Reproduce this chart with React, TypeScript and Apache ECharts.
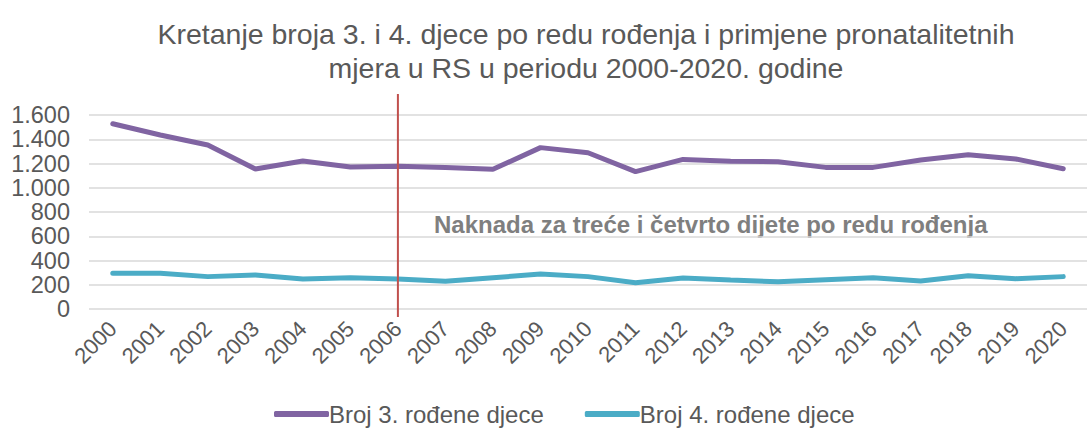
import React, { useEffect, useRef } from "react";
import * as echarts from "echarts";

const years = ["2000","2001","2002","2003","2004","2005","2006","2007","2008","2009","2010","2011","2012","2013","2014","2015","2016","2017","2018","2019","2020"];
const third = [1528,1435,1353,1155,1221,1171,1177,1168,1152,1331,1289,1133,1234,1218,1215,1168,1168,1229,1273,1237,1157];
const fourth = [294,294,267,280,247,258,247,228,258,288,267,217,256,239,225,242,258,231,275,250,267];
const measureStart = [5.89];
const measureLabel = "Naknada za treće i četvrto dijete po redu rođenja";
const titleText = "Kretanje broja 3. i 4. djece po redu rođenja i primjene pronatalitetnih\nmjera u RS u periodu 2000-2020. godine";

const FONT = "'Liberation Sans', Arial, sans-serif";

export default function App() {
  const ref = useRef<HTMLDivElement>(null);
  useEffect(() => {
    const chart = echarts.init(ref.current!, null, { renderer: "svg" });
    chart.setOption({
      animation: false,
      title: {
        text: titleText,
        left: 581,
        top: 12,
        textAlign: "center",
        textStyle: { fontFamily: FONT, fontSize: 28.5, fontWeight: "normal", color: "#595959", lineHeight: 34 },
      },
      legend: {
        bottom: 0,
        left: 269,
        itemWidth: 55,
        itemHeight: 6,
        itemGap: 41,
        icon: "roundRect",
        textStyle: { fontFamily: FONT, fontSize: 24, color: "#595959", padding: [0, 0, 0, -5] },
        data: ["Broj 3. rođene djece", "Broj 4. rođene djece"],
      },
      grid: { left: 89, right: -11, top: 115, bottom: 122 },
      xAxis: {
        type: "category",
        data: years,
        axisLine: { show: false },
        axisTick: { show: false },
        axisLabel: { rotate: 45, fontFamily: FONT, fontSize: 22, color: "#595959", margin: 16 },
      },
      yAxis: {
        type: "value",
        min: 0,
        max: 1600,
        interval: 200,
        axisLabel: {
          fontFamily: FONT,
          fontSize: 23.5,
          lineHeight: 21,
          color: "#595959",
          margin: 19,
          formatter: (v: number) => v.toLocaleString("de-DE"),
        },
        splitLine: { lineStyle: { color: "#d9d9d9", width: 1.5 } },
      },
      graphic: [
        {
          type: "text",
          left: 434,
          top: 212,
          style: { text: measureLabel, font: `bold 24px ${FONT}`, fill: "#7f7f7f" },
        },
      ],
      series: [
        {
          name: "Broj 3. rođene djece",
          type: "line",
          data: third,
          symbol: "none",
          lineStyle: { color: "#8064A2", width: 5, cap: "round" },
          itemStyle: { color: "#8064A2" },
          z: 3,
        },
        {
          name: "Broj 4. rođene djece",
          type: "line",
          data: fourth,
          symbol: "none",
          lineStyle: { color: "#4BACC6", width: 5, cap: "round" },
          itemStyle: { color: "#4BACC6" },
          z: 3,
        },
        {
          type: "custom",
          data: measureStart.map((v) => [v, 0]),
          silent: true,
          z: 4,
          renderItem: (params: any, api: any) => {
            const p = api.coord([api.value(0), 0]);
            const cs = params.coordSys;
            return {
              type: "line",
              shape: { x1: p[0], y1: cs.y - 21, x2: p[0], y2: cs.y + cs.height + 8 },
              style: { stroke: "#C0504D", lineWidth: 2 },
            };
          },
        },
      ],
    });
    return () => chart.dispose();
  }, []);
  return <div ref={ref} style={{ width: 1087, height: 431, position: "absolute", left: 0, top: 0 }} />;
}
